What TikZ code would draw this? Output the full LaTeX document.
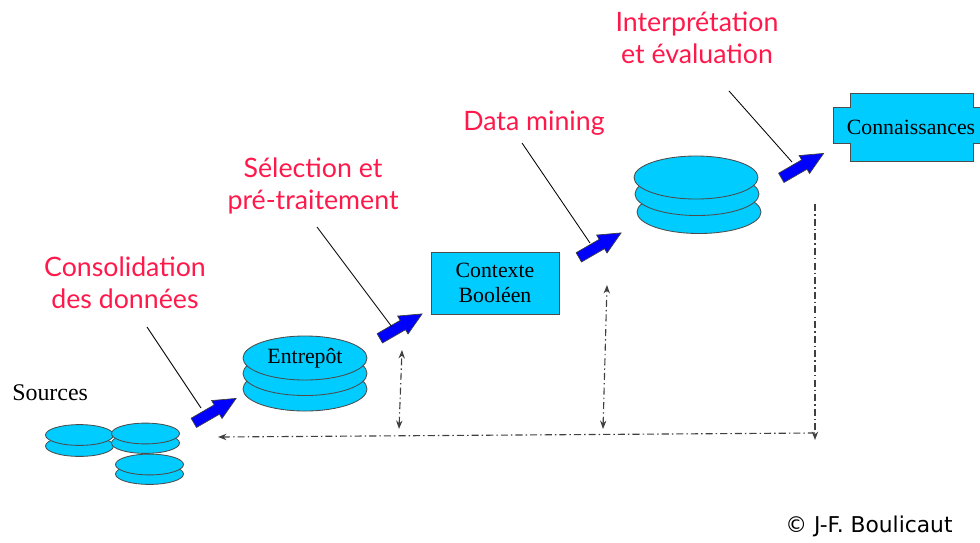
\documentclass[tikz,border=0pt]{standalone}
\usepackage{fontspec}
\setmainfont{Liberation Serif}
\newfontfamily\redfont{Lato}
\newfontfamily\signfont{DejaVu Sans}
\usetikzlibrary{shapes.geometric,shapes.arrows,arrows.meta}
\definecolor{labelred}{RGB}{255,25,75}
\definecolor{diskcyan}{RGB}{0,204,255}
\definecolor{arrowblue}{RGB}{0,0,255}

\begin{document}
\begin{tikzpicture}[x=0.025cm,y=-0.025cm,>={Stealth[length=6pt,width=4.5pt]},
  disk/.style={ellipse,draw=black!70,fill=diskcyan,line width=0.6pt,inner sep=0pt},
  bigdisk/.style={disk,minimum width=3.1cm,minimum height=1.1cm},
  smalldisk/.style={disk,minimum width=1.7cm,minimum height=0.52cm},
  redlabel/.style={text=labelred,font=\redfont\fontsize{19}{23}\selectfont,align=center},
  boxlabel/.style={font=\fontsize{15.5}{18}\selectfont,align=center},
  blockarrow/.style={single arrow,draw=black!75,fill=arrowblue,line width=0.5pt,
    inner xsep=0pt,inner ysep=0.125cm,single arrow head extend=0.125cm,
    single arrow tip angle=50,minimum height=1.22cm,rotate=30,anchor=tail},
  leader/.style={line width=0.6pt},
  feedback/.style={draw=black!75,line width=0.8pt,dash pattern=on 5pt off 2.2pt on 1pt off 2.2pt}]
  \useasboundingbox (0,0) rectangle (980,542);

  \node[boxlabel,font=\fontsize{17}{20}\selectfont,anchor=base west,inner xsep=0pt] (src) at (12,400) {Sources};
  \node[smalldisk] (s1b) at (79.5,446) {};
  \node[smalldisk] (s1a) at (79.5,435) {};
  \node[smalldisk] (s2b) at (145.5,443) {};
  \node[smalldisk] (s2a) at (145.5,433.5) {};
  \node[smalldisk] (s3b) at (149.5,474) {};
  \node[smalldisk] (s3a) at (149.5,464.5) {};

  \node[bigdisk] (w3) at (305,389) {};
  \node[bigdisk] (w2) at (305,373.5) {};
  \node[bigdisk,boxlabel] (w1) at (305,358) {Entrepôt};

  \node[boxlabel,draw=black!70,fill=diskcyan,line width=0.6pt,
    minimum width=3.2cm,minimum height=1.55cm] (ctx) at (495,283) {Contexte\\Booléen};

  \node[bigdisk,minimum height=1.075cm] (m3) at (699,212) {};
  \node[bigdisk,minimum height=1.075cm] (m2) at (697,194) {};
  \node[bigdisk,minimum height=1.075cm] (m1) at (696,177.5) {};

  \draw[draw=black!70,fill=diskcyan,line width=0.6pt] (850,93) -- (973,93) -- (973,107) -- (980,107)
    -- (980,143) -- (973,143) -- (973,161) -- (850,161) -- (850,143) -- (833,143)
    -- (833,107) -- (850,107) -- cycle;
  \node[boxlabel] (conn) at (911,127) {Connaissances};

  \node[blockarrow] (a1) at (193.5,423) {};
  \node[blockarrow] (a2) at (379.5,338.5) {};
  \node[blockarrow] (a3) at (578.5,257.5) {};
  \node[blockarrow] (a4) at (781,178) {};

  \node[redlabel] (cons) at (125,283) {Consolidation\\des données};
  \node[redlabel] (sel) at (313,186) {Sélection et\\pré-traitement};
  \node[redlabel] (dm) at (534,123) {Data mining};
  \node[redlabel] (interp) at (697,38) {Interprétation\\et évaluation};

  \coordinate (l1s) at (147,327);
  \coordinate (l1e) at (201,408);
  \coordinate (l2s) at (317,227);
  \coordinate (l2e) at (392,327);
  \coordinate (l3s) at (522,143);
  \coordinate (l3e) at (590,243);
  \coordinate (l4s) at (729,91);
  \coordinate (l4e) at (792,162);
  \draw[leader] (l1s) -- (l1e);
  \draw[leader] (l2s) -- (l2e);
  \draw[leader] (l3s) -- (l3e);
  \draw[leader] (l4s) -- (l4e);

  \coordinate (fr1) at (815,204);
  \coordinate (fr2) at (815,440);
  \coordinate (fh1) at (815,433);
  \coordinate (fh2) at (218,437);
  \coordinate (fm1) at (603,429);
  \coordinate (fm2) at (607,285);
  \coordinate (fl1) at (399,429);
  \coordinate (fl2) at (402,350);
  \draw[feedback,->] (fr1) -- (fr2);
  \draw[feedback,->] (fh1) -- (fh2);
  \draw[feedback,<->] (fm1) -- (fm2);
  \draw[feedback,<->] (fl1) -- (fl2);

  \node[font=\signfont\fontsize{15.5}{18}\selectfont] (sign) at (869,526) {© J-F. Boulicaut};
\end{tikzpicture}
\end{document}
